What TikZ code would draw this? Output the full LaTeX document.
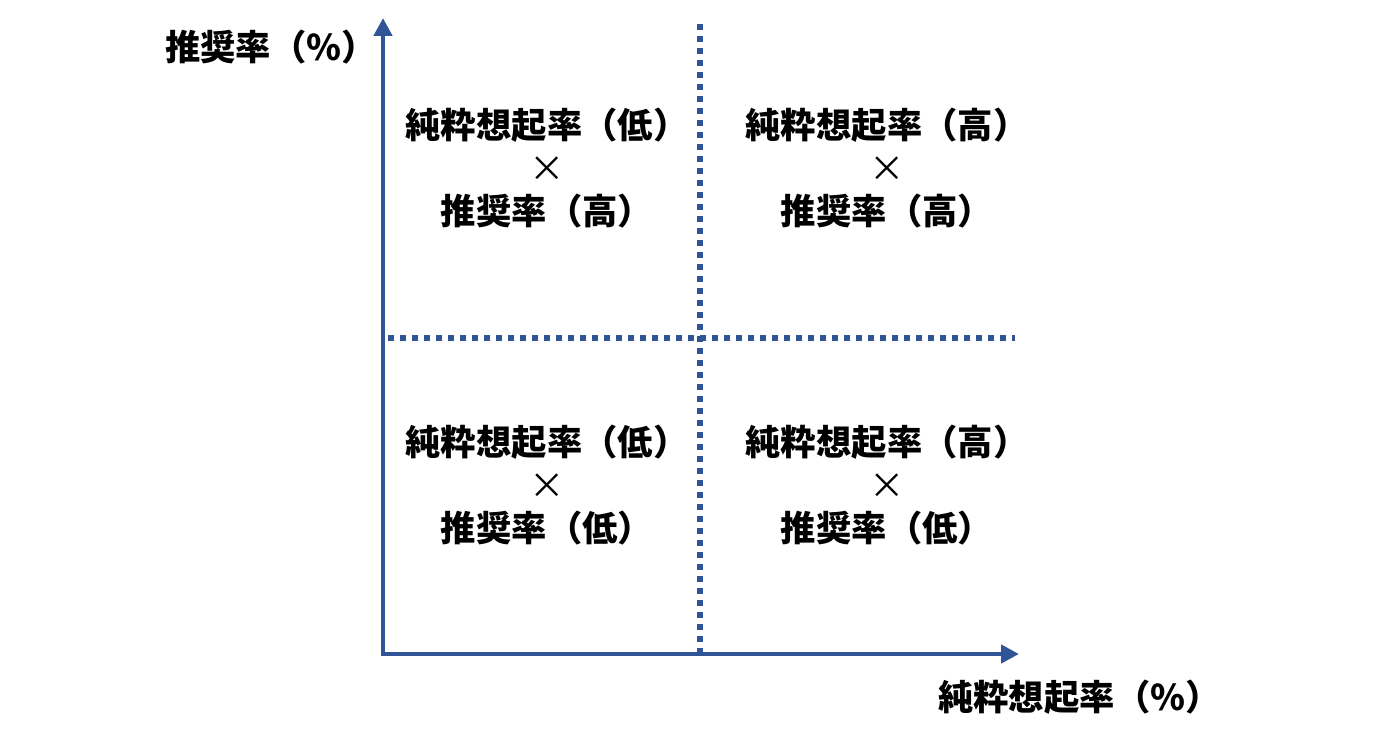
\documentclass[tikz,border=0pt]{standalone}
\usepackage{fontspec}
\setmainfont{Noto Sans CJK JP}
\usetikzlibrary{arrows.meta}
\definecolor{axisblue}{HTML}{2F5597}
\tikzset{
  axis/.style={draw=axisblue, line width=4.5bp, -{Triangle[width=18bp,length=18bp]}},
  divider/.style={draw=axisblue, line width=5.5bp, dash pattern=on 6bp off 6bp},
  quad/.style={align=center, inner sep=0pt, font=\fontsize{35.5}{43.5}\selectfont\bfseries},
  axlabel/.style={inner sep=0pt, font=\fontsize{35.5}{40}\selectfont\bfseries},
}
\newcommand{\tms}{{\mdseries ×}}
\begin{document}
\begin{tikzpicture}[x=1bp,y=-1bp]
\useasboundingbox (0,0) rectangle (1395,741);
\coordinate (ytop) at (383,18);
\coordinate (xend) at (1019,654);
\coordinate (ostart) at (383,656);
\coordinate (ostartx) at (381,654);
\coordinate (vtop) at (700,24);
\coordinate (vbot) at (700,652);
\coordinate (hl) at (388,338);
\coordinate (hr) at (1015,338);
\draw[divider] (vtop) -- (vbot);
\draw[divider] (hl) -- (hr);
\draw[axis] (ostart) -- (ytop);
\draw[axis] (ostartx) -- (xend);
\node[axlabel, anchor=west] (ylab) at (165,47) {推奨率（\%）};
\node[axlabel, anchor=west] (xlab) at (938,697) {純粋想起率（\%）};
\node[quad] (q1) at (547,168) {純粋想起率（低）\\\tms\\推奨率（高）};
\node[quad] (q2) at (887,168) {純粋想起率（高）\\\tms\\推奨率（高）};
\node[quad] (q3) at (547,485) {純粋想起率（低）\\\tms\\推奨率（低）};
\node[quad] (q4) at (887,485) {純粋想起率（高）\\\tms\\推奨率（低）};
\end{tikzpicture}
\end{document}
